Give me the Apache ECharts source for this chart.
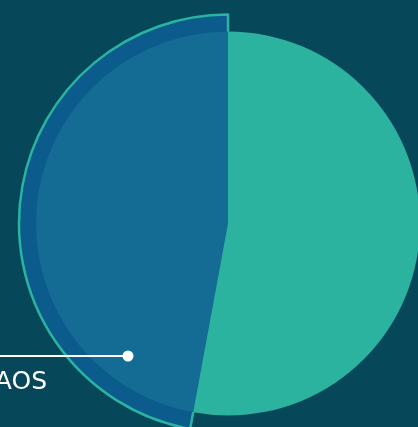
<!DOCTYPE html>
<html>
<head>
<meta charset="utf-8">
<style>
html,body{margin:0;padding:0;background:#06485a;}
#chart{width:418px;height:427px;}
</style>
<script src="https://cdn.jsdelivr.net/npm/echarts@6/dist/echarts.min.js"></script>
</head>
<body>
<div id="chart"></div>
<script>
// Data
const categories = ['Other', 'AOS'];
const values = [52.9, 47.1];
const highlighted = 'AOS';

const colors = {
  bg: '#06485a',
  teal: '#2bb3a0',
  blueInner: '#146b94',
  blueOuter: '#0b5b8c',
  text: '#ffffff'
};

const chart = echarts.init(document.getElementById('chart'), null, {renderer: 'canvas'});

const outerData = categories.map((c, i) => ({
  name: c,
  value: values[i],
  itemStyle: c === highlighted
    ? {color: colors.blueOuter, borderColor: colors.teal, borderWidth: 2.5}
    : {color: 'rgba(0,0,0,0)', borderWidth: 0}
}));

const innerData = categories.map((c, i) => ({
  name: c,
  value: values[i],
  itemStyle: {color: c === highlighted ? colors.blueInner : colors.teal, borderWidth: 0}
}));

const option = {
  backgroundColor: colors.bg,
  animation: false,
  series: [
    {
      type: 'pie',
      center: [228, 223.5],
      radius: [0, 209],
      startAngle: 90,
      clockwise: true,
      silent: true,
      label: {show: false},
      labelLine: {show: false},
      data: outerData,
      z: 1
    },
    {
      type: 'pie',
      center: [228, 223.5],
      radius: [0, 192],
      startAngle: 90,
      clockwise: true,
      silent: true,
      label: {show: false},
      labelLine: {show: false},
      data: innerData,
      z: 2
    }
  ],
  graphic: [
    {type: 'line', shape: {x1: -20, y1: 356, x2: 128, y2: 356}, style: {stroke: colors.text, lineWidth: 2}, z: 100},
    {type: 'circle', shape: {cx: 128, cy: 356, r: 5.5}, style: {fill: colors.text}, z: 101},
    {type: 'text', x: 47, y: 382, style: {text: highlighted, fill: colors.text, font: '25px "DejaVu Sans"', align: 'right', verticalAlign: 'middle'}, z: 101}
  ]
};

chart.setOption(option);
</script>
</body>
</html>
